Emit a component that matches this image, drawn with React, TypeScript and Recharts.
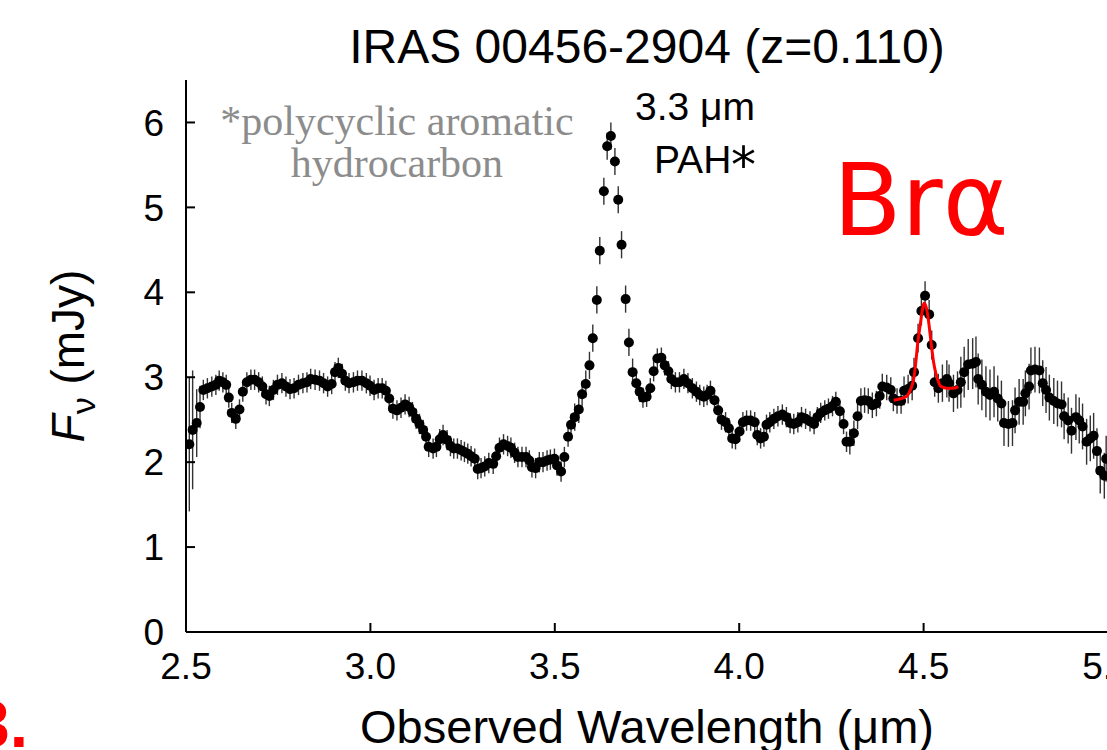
import { ComposedChart, Scatter, Line, XAxis, YAxis, ErrorBar } from 'recharts';

// observed wavelength (um) of each spectral point
const WAVE = [
  2.509, 2.518, 2.529, 2.538, 2.547, 2.558, 2.570, 2.581, 2.590, 2.600,
  2.609, 2.616, 2.624, 2.635, 2.645, 2.654, 2.665, 2.676, 2.686, 2.697,
  2.707, 2.717, 2.726, 2.737, 2.748, 2.760, 2.771, 2.782, 2.793, 2.805,
  2.817, 2.828, 2.838, 2.850, 2.862, 2.873, 2.884, 2.895, 2.904, 2.913,
  2.923, 2.932, 2.942, 2.954, 2.965, 2.977, 2.989, 2.999, 3.010, 3.021,
  3.032, 3.042, 3.051, 3.061, 3.072, 3.083, 3.094, 3.105, 3.114, 3.124,
  3.133, 3.143, 3.151, 3.158, 3.170, 3.179, 3.188, 3.197, 3.208, 3.217,
  3.226, 3.236, 3.246, 3.255, 3.264, 3.273, 3.283, 3.291, 3.300, 3.310,
  3.321, 3.333, 3.341, 3.350, 3.361, 3.372, 3.381, 3.391, 3.400, 3.411,
  3.422, 3.431, 3.438, 3.448, 3.458, 3.468, 3.479, 3.488, 3.499, 3.506,
  3.517, 3.526, 3.536, 3.544, 3.554, 3.565, 3.574, 3.584, 3.594, 3.603,
  3.614, 3.622, 3.633, 3.642, 3.652, 3.663, 3.672, 3.681, 3.692, 3.701,
  3.711, 3.721, 3.730, 3.739, 3.749, 3.759, 3.768, 3.778, 3.789, 3.798,
  3.808, 3.816, 3.827, 3.838, 3.850, 3.861, 3.873, 3.884, 3.893, 3.904,
  3.913, 3.922, 3.933, 3.943, 3.952, 3.963, 3.972, 3.981, 3.990, 4.001,
  4.010, 4.020, 4.031, 4.042, 4.049, 4.058, 4.067, 4.074, 4.083, 4.094,
  4.105, 4.117, 4.128, 4.138, 4.148, 4.159, 4.169, 4.180, 4.192, 4.203,
  4.212, 4.221, 4.232, 4.242, 4.253, 4.262, 4.273, 4.283, 4.291, 4.300,
  4.311, 4.321, 4.330, 4.340, 4.350, 4.361, 4.372, 4.381, 4.388, 4.400,
  4.411, 4.418, 4.428, 4.439, 4.447, 4.458, 4.469, 4.474, 4.485, 4.494,
  4.504, 4.515, 4.522, 4.530, 4.540, 4.551, 4.563, 4.569, 4.581, 4.592,
  4.601, 4.610, 4.621, 4.633, 4.642, 4.648, 4.658, 4.669, 4.680, 4.691,
  4.701, 4.711, 4.718, 4.730, 4.741, 4.748, 4.759, 4.770, 4.776, 4.786,
  4.791, 4.802, 4.814, 4.823, 4.832, 4.841, 4.853, 4.863, 4.874, 4.881,
  4.892, 4.901, 4.913, 4.922, 4.931, 4.942, 4.952, 4.961, 4.970, 4.979,
  4.990, 4.995,
];

// flux density F_nu (mJy)
const FLUX = [
  2.21, 2.38, 2.46, 2.65, 2.85, 2.87, 2.89, 2.91, 2.96, 2.94,
  2.91, 2.76, 2.58, 2.51, 2.62, 2.83, 2.94, 2.97, 2.97, 2.94,
  2.89, 2.80, 2.78, 2.85, 2.91, 2.93, 2.89, 2.86, 2.87, 2.91,
  2.93, 2.94, 2.98, 2.97, 2.96, 2.93, 2.89, 2.92, 3.06, 3.11,
  3.04, 2.96, 2.93, 2.94, 2.96, 2.96, 2.93, 2.90, 2.85, 2.87,
  2.87, 2.84, 2.75, 2.63, 2.61, 2.64, 2.68, 2.65, 2.59, 2.51,
  2.45, 2.38, 2.30, 2.18, 2.16, 2.18, 2.27, 2.32, 2.26, 2.19,
  2.16, 2.16, 2.14, 2.12, 2.10, 2.07, 2.04, 1.92, 1.93, 1.95,
  1.99, 1.98, 2.07, 2.17, 2.21, 2.19, 2.17, 2.11, 2.06, 2.06,
  2.06, 2.02, 1.94, 1.93, 2.00, 2.00, 2.02, 2.03, 2.04, 1.96,
  1.89, 2.06, 2.30, 2.44, 2.53, 2.62, 2.80, 2.92, 3.14, 3.46,
  3.91, 4.49, 5.19, 5.72, 5.84, 5.54, 5.09, 4.56, 3.92, 3.41,
  3.06, 2.93, 2.83, 2.76, 2.77, 2.87, 3.07, 3.22, 3.23, 3.14,
  3.07, 2.98, 2.94, 2.94, 2.98, 2.93, 2.87, 2.83, 2.79, 2.77,
  2.79, 2.84, 2.73, 2.61, 2.50, 2.47, 2.40, 2.28, 2.27, 2.36,
  2.47, 2.49, 2.49, 2.47, 2.32, 2.28, 2.30, 2.44, 2.47, 2.51,
  2.54, 2.56, 2.53, 2.46, 2.45, 2.47, 2.53, 2.51, 2.48, 2.45,
  2.53, 2.58, 2.61, 2.63, 2.66, 2.71, 2.60, 2.45, 2.24, 2.24,
  2.34, 2.54, 2.72, 2.73, 2.72, 2.67, 2.69, 2.78, 2.89, 2.88,
  2.85, 2.75, 2.72, 2.72, 2.84, 2.86, 2.90, 3.06, 3.46, 3.78,
  3.96, 3.74, 3.38, 2.94, 2.87, 2.93, 2.98, 2.93, 2.81, 2.85,
  2.94, 3.06, 3.15, 3.16, 3.18, 2.98, 2.91, 2.83, 2.79, 2.83,
  2.75, 2.69, 2.46, 2.45, 2.46, 2.61, 2.71, 2.71, 2.81, 2.89,
  3.08, 3.09, 3.08, 2.93, 2.85, 2.76, 2.72, 2.69, 2.68, 2.54,
  2.49, 2.37, 2.53, 2.49, 2.42, 2.24, 2.28, 2.31, 2.13, 1.90,
  1.84, 2.04,
];

// 1-sigma error, per wavelength range (starts at ERR_FROM[i])
const ERR_FROM = [2.5, 2.515, 2.525, 2.535, 2.545, 3.55, 3.72, 4.3, 4.44, 4.55, 4.6, 4.7];
const ERR_SIZE = [0.79, 0.7, 0.4, 0.25, 0.12, 0.16, 0.12, 0.15, 0.17, 0.22, 0.3, 0.27];

// Br alpha gaussian fit
const FIT_WAVE = [4.419, 4.432, 4.447, 4.457, 4.465, 4.474, 4.479, 4.484, 4.491, 4.497, 4.501, 4.506,
  4.511, 4.516, 4.521, 4.527, 4.533, 4.540, 4.545, 4.553, 4.564, 4.580, 4.594];
const FIT_FLUX = [2.73, 2.74, 2.76, 2.79, 2.86, 3.00, 3.18, 3.40, 3.62, 3.80, 3.87, 3.84,
  3.74, 3.57, 3.38, 3.18, 3.05, 2.95, 2.90, 2.88, 2.87, 2.87, 2.89];

const X_TICKS = [2.5, 3.0, 3.5, 4.0, 4.5, 5.0];
const Y_TICKS = [0, 1, 2, 3, 4, 5, 6];

const errAt = (w: number) => {
  let e = ERR_SIZE[0];
  ERR_FROM.forEach((from, i) => {
    if (w >= from) e = ERR_SIZE[i];
  });
  return e;
};

const spectrum = WAVE.map((w, i) => ({ w, f: FLUX[i], e: errAt(w) }));
const fit = FIT_WAVE.map((w, i) => ({ w, f: FIT_FLUX[i] }));

const SANS = 'Liberation Sans, Arial, sans-serif';
const frame = { stroke: '#000', strokeWidth: 2 };

const Dot = (p: any) => <circle cx={p.cx} cy={p.cy} r={5} fill="#000" />;

export default function App() {
  return (
    <div style={{ position: 'absolute', left: 0, top: 0, width: 1107, height: 750, overflow: 'hidden', background: '#fff' }}>
      <ComposedChart width={1200} height={750} margin={{ top: 80, right: 92, bottom: 0, left: 0 }}>
        <XAxis
          xAxisId="b"
          dataKey="w"
          type="number"
          domain={[2.5, 5.0]}
          allowDataOverflow
          ticks={X_TICKS}
          interval={0}
          height={118}
          tickFormatter={(v: number) => v.toFixed(1)}
          axisLine={frame}
          tickLine={frame}
          tickSize={-9}
          tickMargin={30}
          tick={{ fill: '#000', fontSize: 37, fontFamily: SANS }}
        />
        <XAxis
          xAxisId="t"
          dataKey="w"
          type="number"
          orientation="top"
          mirror
          domain={[2.5, 5.0]}
          allowDataOverflow
          ticks={X_TICKS}
          interval={0}
          height={0}
          axisLine={frame}
          tickLine={frame}
          tickSize={9}
          tick={false}
        />
        <YAxis
          yAxisId="l"
          dataKey="f"
          type="number"
          domain={[0, 6.5]}
          allowDataOverflow
          ticks={Y_TICKS}
          interval={0}
          width={186}
          axisLine={frame}
          tickLine={frame}
          tickSize={-9}
          tickMargin={31}
          tick={{ fill: '#000', fontSize: 37, fontFamily: SANS }}
        />
        <YAxis
          yAxisId="r"
          type="number"
          orientation="right"
          mirror
          domain={[0, 6.5]}
          allowDataOverflow
          ticks={Y_TICKS}
          interval={0}
          width={0}
          axisLine={frame}
          tickLine={frame}
          tickSize={9}
          tick={false}
        />
        <Scatter xAxisId="b" yAxisId="l" data={spectrum} fill="#000" shape={Dot} isAnimationActive={false}>
          <ErrorBar dataKey="e" direction="y" width={0} stroke="#333" strokeWidth={1.4} isAnimationActive={false} />
        </Scatter>
        <Line
          xAxisId="b"
          yAxisId="l"
          data={fit}
          dataKey="f"
          type="monotone"
          stroke="#ff0000"
          strokeWidth={3}
          dot={false}
          zIndex={700}
          isAnimationActive={false}
        />
      </ComposedChart>
      <svg width={1107} height={750} style={{ position: 'absolute', left: 0, top: 0, pointerEvents: 'none' }}>
        <text x={647} y={63} textAnchor="middle" fontFamily={SANS} fontSize={48} fill="#000">
          IRAS 00456-2904 (z=0.110)
        </text>
        <text x={647} y={743} textAnchor="middle" fontFamily={SANS} fontSize={47} fill="#000">
          Observed Wavelength (μm)
        </text>
        <text x={84} y={356} textAnchor="middle" fontFamily={SANS} fontSize={46} fill="#000" transform="rotate(-90 84 356)">
          <tspan fontStyle="italic">F</tspan>
          <tspan dy={11} fontSize={34}>ν</tspan>
          <tspan dy={-11}> (mJy)</tspan>
        </text>
        <text fontFamily="Liberation Serif, Times New Roman, serif" fontSize={42} fill="#8c8c8c" textAnchor="middle">
          <tspan x={397} y={135}>*polycyclic aromatic</tspan>
          <tspan x={397} y={177}>hydrocarbon</tspan>
        </text>
        <text x={695} y={120} textAnchor="middle" fontFamily={SANS} fontSize={39} fill="#000">
          3.3 μm
        </text>
        <text x={654} y={173} fontFamily={SANS} fontSize={39} fill="#000">
          PAH
        </text>
        <text x={731} y={182} fontFamily="DejaVu Sans, sans-serif" fontSize={50} fill="#000">
          *
        </text>
        <text x={833} y={235} fontFamily="DejaVu Sans, sans-serif" fontSize={100} fill="#ff0000">
          Brα
        </text>
        <text x={28} y={747} textAnchor="end" fontFamily={SANS} fontWeight="bold" fontSize={66} fill="#ff0000">
          3.
        </text>
      </svg>
    </div>
  );
}
